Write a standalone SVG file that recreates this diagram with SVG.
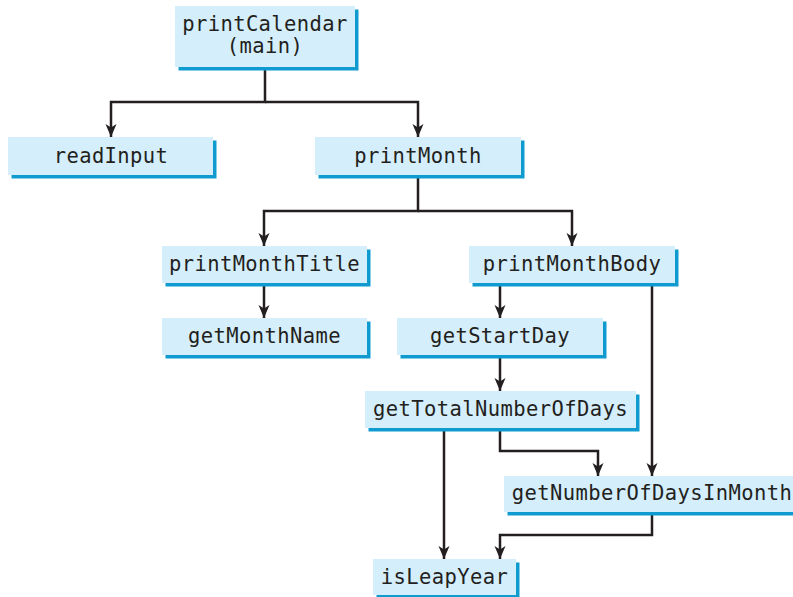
<svg xmlns="http://www.w3.org/2000/svg" width="793" height="597" viewBox="0 0 793 597">
<defs>
<style>
.sh{fill:#0f9bd0}
.bx{fill:#d4eefb}
.t{font-family:"DejaVu Sans Mono","Liberation Mono",monospace;font-size:20.5px;letter-spacing:0.4px;fill:#231f20;text-anchor:middle}
.c{fill:none;stroke:#231f20;stroke-width:2.5;marker-end:url(#ah)}
</style>
<marker id="ah" markerUnits="userSpaceOnUse" markerWidth="15" markerHeight="13" viewBox="0 0 15 13" refX="14" refY="6.5" orient="auto">
<path d="M1,1 L14,6.5 L1,12 L4.5,6.5 z" fill="#231f20"/>
</marker>
</defs>
<rect width="793" height="597" fill="#ffffff"/>
<g id="connectors">
<path class="c" d="M265 67 V102 H111 V137"/>
<path class="c" d="M265 102 H418 V137"/>
<path class="c" d="M418 175 V211 H264 V246"/>
<path class="c" d="M418 211 H572 V246"/>
<path class="c" d="M264 283 V318"/>
<path class="c" d="M500 283 V318"/>
<path class="c" d="M500 355 V391"/>
<path class="c" d="M444 428 V559"/>
<path class="c" d="M500 428 V451 H598 V476"/>
<path class="c" d="M652 283 V476"/>
<path class="c" d="M652 512 V535 H500 V559"/>
</g>
<g id="printCalendar">
<rect class="sh" x="178.5" y="9.5" width="180" height="61"/>
<rect class="bx" x="175" y="6" width="180" height="61"/>
<text class="t" x="265" y="31">printCalendar</text>
<text class="t" x="265" y="53">(main)</text>
</g>
<g id="readInput">
<rect class="sh" x="11.5" y="140.5" width="205" height="38"/>
<rect class="bx" x="8" y="137" width="205" height="38"/>
<text class="t" x="111" y="163">readInput</text>
</g>
<g id="printMonth">
<rect class="sh" x="318.5" y="140.5" width="206" height="38"/>
<rect class="bx" x="315" y="137" width="206" height="38"/>
<text class="t" x="418" y="163">printMonth</text>
</g>
<g id="printMonthTitle">
<rect class="sh" x="165.5" y="249.5" width="205" height="37"/>
<rect class="bx" x="162" y="246" width="205" height="37"/>
<text class="t" x="264.5" y="271">printMonthTitle</text>
</g>
<g id="getMonthName">
<rect class="sh" x="165.5" y="321.5" width="205" height="37"/>
<rect class="bx" x="162" y="318" width="205" height="37"/>
<text class="t" x="264.5" y="343">getMonthName</text>
</g>
<g id="printMonthBody">
<rect class="sh" x="472.5" y="249.5" width="206" height="37"/>
<rect class="bx" x="469" y="246" width="206" height="37"/>
<text class="t" x="572" y="271">printMonthBody</text>
</g>
<g id="getStartDay">
<rect class="sh" x="400.5" y="321.5" width="206" height="37"/>
<rect class="bx" x="397" y="318" width="206" height="37"/>
<text class="t" x="500" y="343">getStartDay</text>
</g>
<g id="getTotalNumberOfDays">
<rect class="sh" x="368.5" y="394.5" width="271" height="37"/>
<rect class="bx" x="365" y="391" width="271" height="37"/>
<text class="t" x="500.5" y="416">getTotalNumberOfDays</text>
</g>
<g id="getNumberOfDaysInMonth">
<rect class="sh" x="507.5" y="479.5" width="292" height="36"/>
<rect class="bx" x="504" y="476" width="292" height="36"/>
<text class="t" x="652" y="500">getNumberOfDaysInMonth</text>
</g>
<g id="isLeapYear">
<rect class="sh" x="376.5" y="562.5" width="143" height="36"/>
<rect class="bx" x="373" y="559" width="143" height="36"/>
<text class="t" x="444.5" y="584">isLeapYear</text>
</g>
</svg>
